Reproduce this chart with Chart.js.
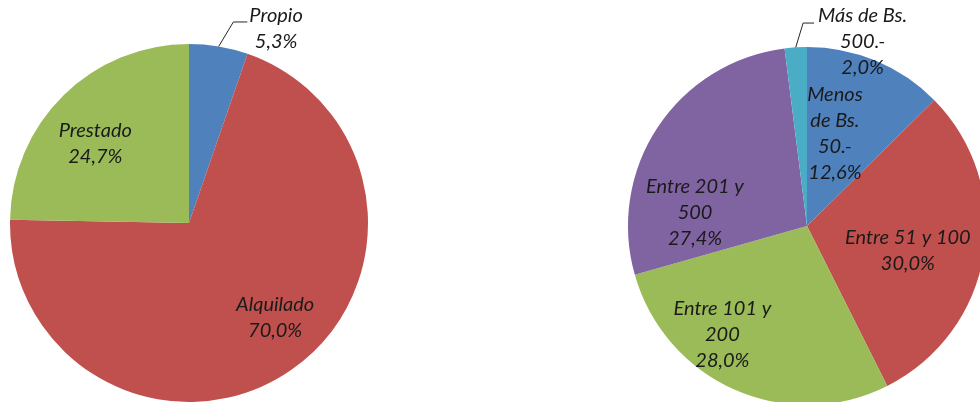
<!DOCTYPE html>
<html>
<head>
<meta charset="utf-8">
<script src="https://cdn.jsdelivr.net/npm/chart.js@4"></script>
<style>
  html, body { margin: 0; padding: 0; background: #fff; overflow: hidden; width: 980px; height: 402px; }
  .pie { position: absolute; top: 0; height: 460px; }
  #leftBox { left: 0; width: 490px; }
  #rightBox { left: 490px; width: 540px; }
</style>
</head>
<body>
<div class="pie" id="leftBox"><canvas id="tenure"></canvas></div>
<div class="pie" id="rightBox"><canvas id="cost"></canvas></div>
<script>
// Tenencia de la vivienda
const tenureCategories = ['Propio', 'Alquilado', 'Prestado'];
const tenureShares = [5.3, 70.0, 24.7];
const tenureColors = ['#4F81BD', '#C0504D', '#9BBB59'];

// Gasto mensual
const costCategories = ['Menos de Bs. 50.-', 'Entre 51 y 100', 'Entre 101 y 200', 'Entre 201 y 500', 'Más de Bs. 500.-'];
const costShares = [12.6, 30.0, 28.0, 27.4, 2.0];
const costColors = ['#4F81BD', '#C0504D', '#9BBB59', '#8064A2', '#4BACC6'];

const FONT = 'italic 20px Lato';
const LINE_H = 26;

const fmt = v => v.toFixed(1).replace('.', ',') + '%';

// simple word wrap against a pixel width
const wrap = (ctx, text, maxW) => {
    const words = text.split(' ');
    const lines = [];
    let cur = '';
    words.forEach(w => {
        const test = cur ? cur + ' ' + w : w;
        if (cur && ctx.measureText(test).width > maxW) {
            lines.push(cur);
            cur = w;
        } else {
            cur = test;
        }
    });
    if (cur) lines.push(cur);
    return lines;
}

const sliceLabels = {
    id: 'sliceLabels',
    afterDatasetsDraw(chart, args, opts) {
        const ctx = chart.ctx;
        const meta = chart.getDatasetMeta(0);
        const values = chart.data.datasets[0].data;
        ctx.save();
        ctx.font = FONT;
        ctx.fillStyle = '#1a1a1a';
        ctx.strokeStyle = '#262626';
        ctx.lineWidth = 1;
        ctx.textAlign = 'center';
        ctx.textBaseline = 'middle';
        meta.data.forEach((arc, i) => {
            const p = opts.place[i];
            const { x, y, startAngle, endAngle, outerRadius } =
                arc.getProps(['x', 'y', 'startAngle', 'endAngle', 'outerRadius'], true);
            const lines = wrap(ctx, chart.data.labels[i], p.wrap).concat(fmt(values[i]));
            const blockW = Math.max(...lines.map(l => ctx.measureText(l).width));
            let cx, firstY;
            if (p.leader) {
                const mid = (startAngle + endAngle) / 2;
                const a2 = mid + p.da * Math.PI / 180;
                const x1 = x + Math.cos(mid) * outerRadius, y1 = y + Math.sin(mid) * outerRadius;
                const x2 = x + Math.cos(a2) * outerRadius * p.k, y2 = y + Math.sin(a2) * outerRadius * p.k;
                const x3 = x2 + p.h;
                ctx.beginPath();
                ctx.moveTo(x1, y1);
                ctx.lineTo(x2, y2);
                ctx.lineTo(x3, y2);
                ctx.stroke();
                cx = x3 + p.gap + blockW / 2;
                firstY = y2 + p.dy;
            } else {
                const a = startAngle + (endAngle - startAngle) * p.t;
                cx = x + Math.cos(a) * outerRadius * p.r;
                const cy = y + Math.sin(a) * outerRadius * p.r;
                firstY = cy - (lines.length - 1) * LINE_H / 2;
            }
            lines.forEach((l, j) => ctx.fillText(l, cx, firstY + j * LINE_H));
        });
        ctx.restore();
    }
};

const makePie = (id, labels, values, colors, padding, place) => {
    return new Chart(document.getElementById(id), {
        type: 'pie',
        data: {
            labels: labels,
            datasets: [{
                data: values,
                backgroundColor: colors,
                borderWidth: 0
            }]
        },
        options: {
            responsive: true,
            maintainAspectRatio: false,
            animation: false,
            layout: { padding: padding },
            plugins: {
                legend: { display: false },
                tooltip: { enabled: false },
                sliceLabels: { place: place }
            }
        },
        plugins: [sliceLabels]
    });
}

makePie('tenure', tenureCategories, tenureShares, tenureColors,
    { left: 10, right: 122, top: 44, bottom: 58 },
    [
        { leader: true, da: 2.9, k: 1.15, h: 14, gap: 2, dy: -6, wrap: 200 },
        { t: 0.471, r: 0.716, wrap: 200 },
        { t: 0.44, r: 0.685, wrap: 200 }
    ]);

makePie('cost', costCategories, costShares, costColors,
    { left: 138, right: 44, top: 47, bottom: 55 },
    [
        { t: 0.37, r: 0.54, wrap: 70 },
        { t: 0.54, r: 0.58, wrap: 200 },
        { t: 0.64, r: 0.77, wrap: 110 },
        { t: 0.23, r: 0.63, wrap: 110 },
        { leader: true, da: 2.5, k: 1.134, h: 11, gap: 4, dy: -7.5, wrap: 100 }
    ]);
</script>
</body>
</html>
